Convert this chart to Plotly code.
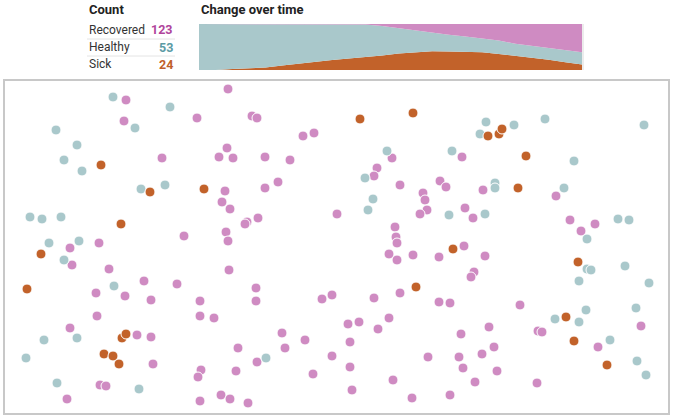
import plotly.graph_objects as go

W, H = 674, 416

# ---- agent positions (simulation world units: x 0..663, y 0..332, y grows downward)
recovered_x = [121,223,119,192,247,252,298,309,157,222,214,228,260,285,220,273,260,217,225,332,242,240,253,179,221,223,94,65,
               387,457,372,369,395,435,441,478,551,418,420,422,415,460,468,565,576,590,390,391,392,459,
               67,104,224,139,172,91,120,146,195,251,251,317,327,92,195,209,65,132,146,277,300,233,280,327,148,252,196,193,231,308,95,101,62,195,216,225,243,
               384,392,408,434,480,469,466,395,369,434,445,515,636,343,354,384,373,484,533,537,456,593,345,489,423,454,477,345,458,492,388,470,532,347,445,407]
recovered_y = [19,8,40,37,35,37,55,52,77,67,76,77,76,79,110,101,107,121,128,133,141,143,137,155,151,160,162,167,
               77,76,87,95,104,100,106,109,115,112,119,129,133,127,137,139,150,143,146,156,162,165,
               184,188,189,200,203,212,215,219,220,207,220,218,214,235,235,237,247,254,256,252,259,267,267,275,283,281,289,296,290,293,304,305,318,320,314,318,322,
               173,179,174,176,175,191,196,212,217,221,222,224,245,243,241,237,248,246,250,251,253,266,261,266,276,276,273,286,287,290,299,301,302,309,314,317]

healthy_x = [108,165,130,51,72,59,77,136,160,25,37,56,44,74,481,509,540,639,475,569,382,447,360,490,490,559,368,363,444,480,
             613,624,582,59,109,72,39,21,261,52,134,582,586,620,644,574,581,631,550,574,605,632,641]
healthy_y = [16,26,47,49,64,79,90,108,104,136,138,136,162,160,41,44,38,44,53,80,70,70,97,102,107,107,118,129,134,133,
             138,139,158,179,205,257,259,277,277,302,308,188,189,185,202,200,229,227,238,241,259,280,294]

sick_x = [96,145,199,116,355,408,483,494,497,521,513,36,22,117,121,99,108,114,448,573,411,561,569,602]
sick_y = [84,111,108,143,38,32,55,53,48,75,107,173,208,257,253,273,275,283,168,181,206,236,260,284]

# ---- change over time (counts per time step)
steps = list(range(24))
sick_count = [0,0,4,8,11,20,28,38,43,50,56,63,72,76,81,80,79,77,70,62,54,45,34,24]
recovered_count = [0,0,0,0,0,0,0,0,0,0,2,9,19,29,38,47,54,62,72,86,95,104,114,123]
healthy_count = [200 - s - r for s, r in zip(sick_count, recovered_count)]

labels = ["Recovered", "Healthy", "Sick"]
totals = [len(recovered_x), len(healthy_x), len(sick_x)]

PINK = "#cf8bc2"
TEAL = "#a9c8cb"
ORANGE = "#c2622a"
NUM_COLORS = ["#b0449b", "#5c9ba5", "#c0602a"]

fig = go.Figure()

dot = dict(size=10, line=dict(color="white", width=1))
fig.add_trace(go.Scatter(x=recovered_x, y=recovered_y, mode="markers",
                         marker=dict(color=PINK, **dot), xaxis="x", yaxis="y", hoverinfo="skip"))
fig.add_trace(go.Scatter(x=healthy_x, y=healthy_y, mode="markers",
                         marker=dict(color=TEAL, **dot), xaxis="x", yaxis="y", hoverinfo="skip"))
fig.add_trace(go.Scatter(x=sick_x, y=sick_y, mode="markers",
                         marker=dict(color=ORANGE, **dot), xaxis="x", yaxis="y", hoverinfo="skip"))

for vals, col in [(sick_count, ORANGE), (healthy_count, TEAL), (recovered_count, PINK)]:
    fig.add_trace(go.Scatter(x=steps, y=vals, mode="lines", stackgroup="one",
                             line=dict(width=0, color=col), fillcolor=col,
                             xaxis="x2", yaxis="y2", hoverinfo="skip"))

def px(v): return v / W
def py(v): return 1 - v / H

fig.update_layout(
    width=W, height=H, margin=dict(l=0, r=0, t=0, b=0),
    paper_bgcolor="white", plot_bgcolor="white", showlegend=False,
    xaxis=dict(domain=[px(5), px(668)], range=[0, 663], showgrid=False, zeroline=False,
               showticklabels=False, ticks="", showline=True, mirror=True,
               linecolor="#c8c8c8", linewidth=1.5),
    yaxis=dict(domain=[py(413), py(81)], range=[332, 0], showgrid=False, zeroline=False,
               showticklabels=False, ticks="", showline=True, mirror=True,
               linecolor="#c8c8c8", linewidth=1.5),
    xaxis2=dict(domain=[px(199), px(582)], range=[0, 23], showgrid=False, zeroline=False,
                showticklabels=False, ticks="", anchor="y2"),
    yaxis2=dict(domain=[py(70), py(24)], range=[0, 200], showgrid=False, zeroline=False,
                showticklabels=False, ticks="", anchor="x2"),
)

font_b = "Roboto"
fig.add_annotation(x=px(87), y=py(9), xref="paper", yref="paper", text="<b>Count</b>",
                   showarrow=False, xanchor="left", yanchor="middle",
                   font=dict(family=font_b, size=13, color="#222"))
fig.add_annotation(x=px(199), y=py(9), xref="paper", yref="paper", text="<b>Change over time</b>",
                   showarrow=False, xanchor="left", yanchor="middle",
                   font=dict(family=font_b, size=13, color="#222"))

row_y = [30, 47, 64]
for lab, tot, col, yy in zip(labels, totals, NUM_COLORS, row_y):
    fig.add_annotation(x=px(87), y=py(yy), xref="paper", yref="paper", text=lab,
                       showarrow=False, xanchor="left", yanchor="middle",
                       font=dict(family="Roboto", size=12, color="#333"))
    fig.add_annotation(x=px(175), y=py(yy), xref="paper", yref="paper", text=f"<b>{tot}</b>",
                       showarrow=False, xanchor="right", yanchor="middle",
                       font=dict(family="Roboto", size=12.5, color=col))

for yy in [39, 56]:
    fig.add_shape(type="line", xref="paper", yref="paper", x0=px(87), x1=px(175),
                  y0=py(yy), y1=py(yy), line=dict(color="#e4e4e4", width=1))

fig.add_shape(type="line", xref="paper", yref="paper", x0=px(583), x1=px(583),
              y0=py(70), y1=py(24), line=dict(color="#e6e6e6", width=1.5))

fig.write_html("out.html", config={"displayModeBar": False},
               post_script="document.body.style.margin='0';")
